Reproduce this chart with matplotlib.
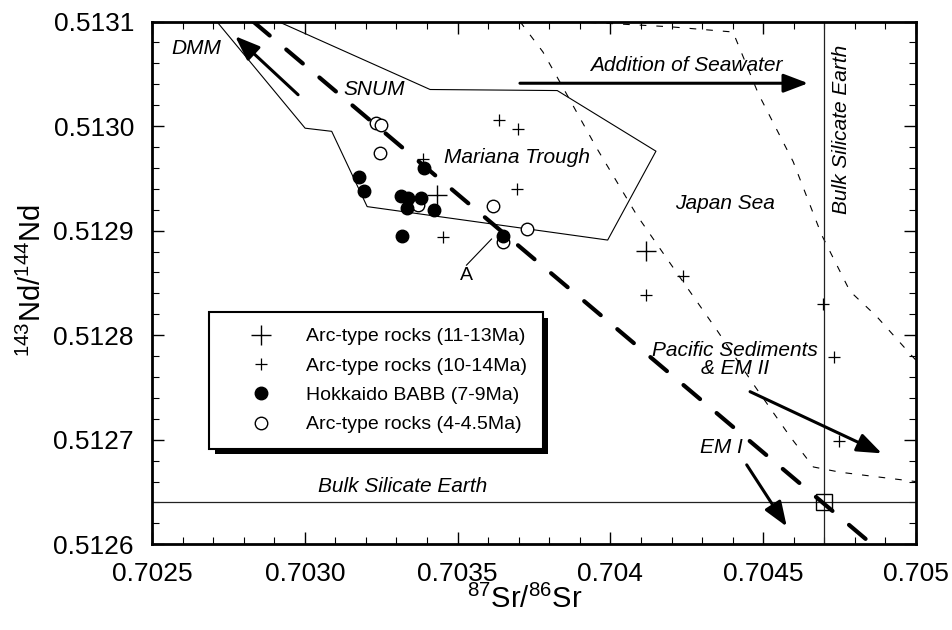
import matplotlib
matplotlib.use("Agg")
import matplotlib.pyplot as plt
from matplotlib.ticker import MultipleLocator, FixedLocator
from matplotlib import patheffects as pe

# ---- data -------------------------------------------------------------
# Arc-type rocks (11-13 Ma)
sr_arc_11_13 = [0.703432, 0.704117]
nd_arc_11_13 = [0.512934, 0.512881]
# Arc-type rocks (10-14 Ma)
sr_arc_10_14 = [0.703636, 0.703697, 0.703386, 0.703693, 0.703453,
                0.704239, 0.704117, 0.704695, 0.704733, 0.704748]
nd_arc_10_14 = [0.513006, 0.512997, 0.512969, 0.512940, 0.512894,
                0.512857, 0.512838, 0.512830, 0.512779, 0.512699]
# Hokkaido BABB (7-9 Ma)
sr_babb = [0.703177, 0.703194, 0.703314, 0.703339, 0.703335,
           0.703380, 0.703390, 0.703424, 0.703319, 0.703650]
nd_babb = [0.512951, 0.512938, 0.512933, 0.512931, 0.512922,
           0.512931, 0.512960, 0.512920, 0.512895, 0.512895]
# Arc-type rocks (4-4.5 Ma)
sr_arc_4 = [0.703232, 0.703248, 0.703246, 0.703617, 0.703726, 0.703371, 0.703650]
nd_arc_4 = [0.513003, 0.513001, 0.512974, 0.512924, 0.512902, 0.512925, 0.512889]

# Mariana Trough field outline
sr_mariana = [0.702712, 0.703001, 0.703088, 0.703204, 0.703991,
              0.704149, 0.703826, 0.703410, 0.702913]
nd_mariana = [0.513100, 0.512998, 0.512995, 0.512923, 0.512891,
              0.512976, 0.513034, 0.513035, 0.513100]
# Japan Sea field: lower-left and upper-right boundaries
sr_japan_lo = [0.703704, 0.703779, 0.703835, 0.703955, 0.704086, 0.704195, 0.704348,
               0.704473, 0.704588, 0.704664, 0.704751, 0.704860, 0.705000]
nd_japan_lo = [0.513100, 0.513071, 0.513042, 0.512979, 0.512915, 0.512869, 0.512805,
               0.512751, 0.512703, 0.512674, 0.512669, 0.512665, 0.512660]
sr_japan_hi = [0.703878, 0.704008, 0.704195, 0.704401, 0.704484, 0.704598,
               0.704691, 0.704784, 0.704871, 0.704975, 0.705000]
nd_japan_hi = [0.513100, 0.513098, 0.513095, 0.513090, 0.513031, 0.512966,
               0.512896, 0.512842, 0.512818, 0.512784, 0.512776]

# DMM - EM I mixing trend
sr_mixing = [0.702831, 0.704856]
nd_mixing = [0.513100, 0.512600]

# Bulk Silicate Earth
bse_sr = 0.7047
bse_nd = 0.51264

# Trend arrows: (tail, head)
arrow_dmm = ((0.702978, 0.513030), (0.702772, 0.513086))
arrow_seawater = ((0.703704, 0.513041), (0.704647, 0.513041))
arrow_pacific = ((0.704457, 0.512746), (0.704888, 0.512687))
arrow_em1 = ((0.704446, 0.512676), (0.704577, 0.512617))

x_ticks = [0.7025, 0.7030, 0.7035, 0.7040, 0.7045, 0.7050]
x_tick_labels = ["0.7025", "0.7030", "0.7035", "0.704", "0.7045", "0.705"]
y_ticks = [0.5126, 0.5127, 0.5128, 0.5129, 0.5130, 0.5131]
y_tick_labels = ["0.5126", "0.5127", "0.5128", "0.5129", "0.5130", "0.5131"]

# ---- style ------------------------------------------------------------
plt.rcParams["font.family"] = ["Liberation Sans", "DejaVu Sans"]
plt.rcParams["mathtext.fontset"] = "custom"
plt.rcParams["mathtext.rm"] = "Liberation Sans"
plt.rcParams["mathtext.it"] = "Liberation Sans:italic"

fig = plt.figure(figsize=(9.53, 6.30), dpi=100)
ax = fig.add_axes([0.1595, 0.1360, 0.8017, 0.8298])
ax.set_xlim(0.7025, 0.7050)
ax.set_ylim(0.5126, 0.5131)

# field outlines and reference lines
ax.plot(sr_mariana, nd_mariana, color="k", lw=0.8, zorder=2)
ax.plot(sr_japan_lo, nd_japan_lo, color="k", lw=0.8, dashes=(6, 9), zorder=2)
ax.plot(sr_japan_hi, nd_japan_hi, color="k", lw=0.8, dashes=(6, 9), zorder=2)
ax.axvline(bse_sr, color="#222222", lw=0.9, zorder=2)
ax.axhline(bse_nd, color="#222222", lw=0.9, zorder=2)
ax.plot(sr_mixing, nd_mixing, color="k", lw=3.0, dashes=(5.2, 5.2),
        dash_capstyle="round", zorder=3)
ax.plot([bse_sr], [bse_nd], marker="s", ms=12, mfc="none", mec="k", mew=1.0,
        ls="none", zorder=4)

# samples
ax.plot(sr_arc_11_13, nd_arc_11_13, ls="none", marker="+", ms=15, mew=1.0,
        color="k", label="Arc-type rocks (11-13Ma)", zorder=6)
ax.plot(sr_arc_10_14, nd_arc_10_14, ls="none", marker="+", ms=9, mew=0.9,
        color="k", label="Arc-type rocks (10-14Ma)", zorder=6)
ax.plot(sr_babb, nd_babb, ls="none", marker="o", ms=9, mfc="k", mec="k",
        label="Hokkaido BABB (7-9Ma)", zorder=5)
ax.plot(sr_arc_4, nd_arc_4, ls="none", marker="o", ms=9, mfc="white", mec="k",
        mew=1.0, label="Arc-type rocks (4-4.5Ma)", zorder=4)

# trend arrows
for tail, head in (arrow_dmm, arrow_seawater, arrow_pacific, arrow_em1):
    ax.annotate("", xy=head, xytext=tail,
                arrowprops=dict(arrowstyle="-|>,head_length=1.0,head_width=0.38",
                                mutation_scale=15, lw=2.2, color="k",
                                shrinkA=0, shrinkB=0), zorder=5)

# point A leader
ax.plot([0.703611, 0.703529], [0.512892, 0.512867], color="k", lw=0.8, zorder=3)
ax.text(0.70353, 0.512857, "A", fontsize=14, ha="center", va="center")

# field labels
lab = dict(fontsize=15, style="italic", ha="center", va="center")
ax.text(0.702646, 0.513074, "DMM", **lab)
ax.text(0.703226, 0.513035, "SNUM", **lab)
ax.text(0.703694, 0.512970, "Mariana Trough", **lab)
ax.text(0.704247, 0.513058, "Addition of Seawater", **lab)
ax.text(0.704375, 0.512926, "Japan Sea", **lab)
ax.text(0.704757, 0.512997, "Bulk Silicate Earth", rotation=90, **lab)
ax.text(0.703321, 0.512655, "Bulk Silicate Earth", **lab)
ax.text(0.704408, 0.512777, "Pacific Sediments\n& EM II", linespacing=0.95, **lab)
ax.text(0.704364, 0.512693, "EM I", **lab)

# axes, ticks
ax.xaxis.set_major_locator(FixedLocator(x_ticks))
ax.set_xticklabels(x_tick_labels)
ax.yaxis.set_major_locator(FixedLocator(y_ticks))
ax.set_yticklabels(y_tick_labels)
ax.xaxis.set_minor_locator(MultipleLocator(0.0001))
ax.yaxis.set_minor_locator(MultipleLocator(0.00002))
ax.tick_params(which="both", direction="in", top=True, right=True)
ax.tick_params(which="major", length=8.6, width=1.0, labelsize=19, pad=13)
ax.tick_params(which="minor", length=5, width=0.8)
for sp in ax.spines.values():
    sp.set_linewidth(2.0)

ax.set_xlabel(r"$^{87}$Sr/$^{86}$Sr", fontsize=21)
ax.set_ylabel(r"$^{143}$Nd/$^{144}$Nd", fontsize=21)
ax.xaxis.set_label_coords(0.488, -0.078)
ax.yaxis.set_label_coords(-0.137, 0.505)

leg = ax.legend(loc="upper left", bbox_to_anchor=(0.075, 0.4438), borderaxespad=0,
                frameon=True, fancybox=False, edgecolor="k", framealpha=1,
                fontsize=14, handlelength=3.75, handletextpad=0.44,
                borderpad=0.8, labelspacing=0.6)
leg.get_frame().set_linewidth(1.5)
leg.get_frame().set_path_effects([pe.withSimplePatchShadow(offset=(4, -4),
                                                           shadow_rgbFace="k",
                                                           alpha=1.0)])
leg.set_zorder(10)

fig.savefig("out.png", dpi=100)
